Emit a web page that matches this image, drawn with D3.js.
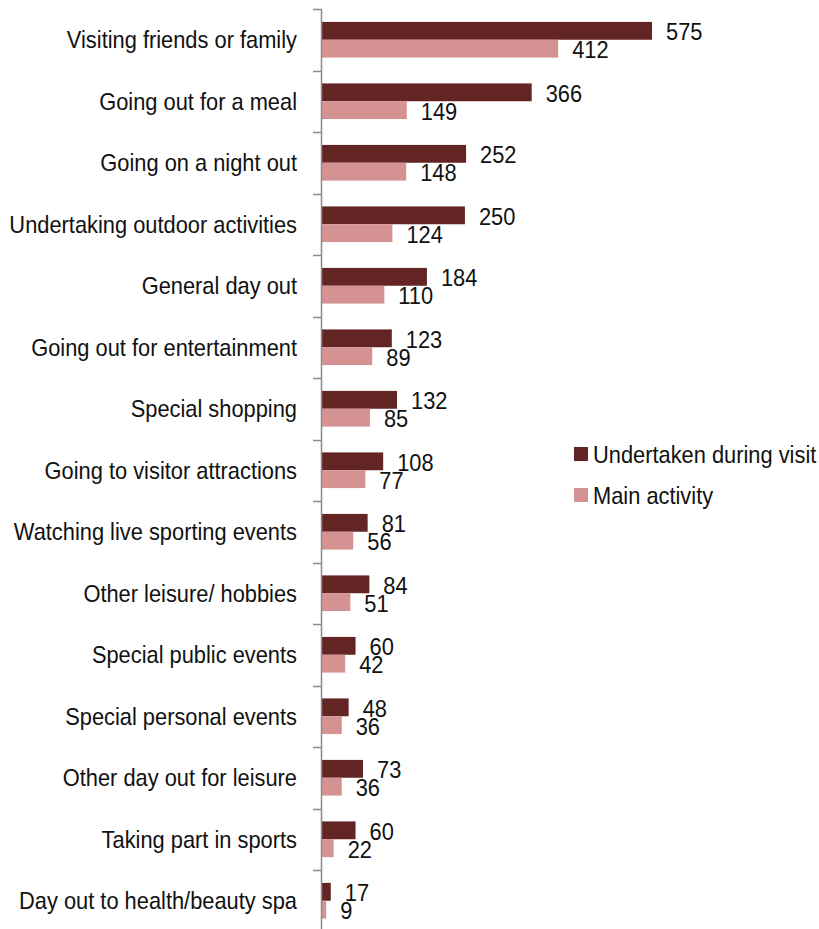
<!DOCTYPE html>
<html>
<head>
<meta charset="utf-8">
<script src="https://cdn.jsdelivr.net/npm/d3@7"></script>
<style>
  html, body { margin: 0; padding: 0; background: #fff; }
  svg { display: block; font-family: "Liberation Sans", Arial, sans-serif; }
</style>
</head>
<body>
<svg id="chart" width="819" height="929"></svg>
<script>
// Leisure activities: number undertaken during visit vs. main activity
const categories = [
  "Visiting friends or family",
  "Going out for a meal",
  "Going on a night out",
  "Undertaking outdoor activities",
  "General day out",
  "Going out for entertainment",
  "Special shopping",
  "Going to visitor attractions",
  "Watching live sporting events",
  "Other leisure/ hobbies",
  "Special public events",
  "Special personal events",
  "Other day out for leisure",
  "Taking part in sports",
  "Day out to health/beauty spa"
];
const undertaken = [575, 366, 252, 250, 184, 123, 132, 108, 81, 84, 60, 48, 73, 60, 17];
const mainActivity = [412, 149, 148, 124, 110, 89, 85, 77, 56, 51, 42, 36, 36, 22, 9];
const seriesNames = ["Undertaken during visit", "Main activity"];
const seriesColors = ["#632523", "#D49392"];

const svg = d3.select("#chart");
const FS = 24;        // text size
const SX = 0.91;      // horizontal squeeze of the typeface

const rows = categories.map((c, i) => ({ cat: c, values: [undertaken[i], mainActivity[i]] }));

const x = d3.scaleLinear().domain([0, 600]).range([321, 321 + 600 * 0.5757]);
const yTop = 9, yBottom = 931.5;
const y = d3.scaleBand().domain(categories).range([yTop, yBottom])
  .paddingInner(0.42).paddingOuter(0.21);
const ySub = d3.scaleBand().domain([0, 1]).range([0, y.bandwidth()]);
const step = y.step();

// squeezed text helper
function sText(g, tx, ty, str, anchor) {
  return g.append("text")
    .attr("transform", `translate(${tx},${ty}) scale(${SX},1)`)
    .attr("text-anchor", anchor || "start")
    .attr("font-size", FS)
    .attr("fill", "#111")
    .text(str);
}

// bars
const groups = svg.append("g").selectAll("g").data(rows).join("g")
  .attr("transform", d => `translate(0,${y(d.cat)})`);

groups.selectAll("rect").data(d => d.values).join("rect")
  .attr("x", x(0))
  .attr("y", (v, j) => ySub(j))
  .attr("width", v => x(v) - x(0))
  .attr("height", ySub.bandwidth())
  .attr("fill", (v, j) => seriesColors[j]);

// value labels
const labels = svg.append("g");
rows.forEach(r => {
  r.values.forEach((v, j) => {
    const cy = y(r.cat) + ySub(j) + ySub.bandwidth() / 2;
    sText(labels, x(v) + 14, cy + 9.5, v);
  });
});

// vertical axis with ticks between categories
const axis = svg.append("g").attr("stroke", "#8a8a8a").attr("stroke-width", 1.5);
axis.append("line").attr("x1", 321.5).attr("x2", 321.5).attr("y1", yTop).attr("y2", 929);
d3.range(categories.length + 1).forEach(i => {
  const ty = Math.round(yTop + i * step) + 0.5;
  axis.append("line").attr("x1", 313).attr("x2", 321.5).attr("y1", ty).attr("y2", ty);
});

// category labels
const catG = svg.append("g");
categories.forEach(c => {
  sText(catG, 297, y(c) + y.bandwidth() / 2 + 8.5, c, "end");
});

// legend
const legend = svg.append("g");
seriesNames.forEach((n, j) => {
  const ly = 447 + j * 41;
  legend.append("rect").attr("x", 574).attr("y", ly).attr("width", 14).attr("height", 14)
    .attr("fill", seriesColors[j]);
  sText(legend, 593, ly + 16, n);
});
</script>
</body>
</html>
